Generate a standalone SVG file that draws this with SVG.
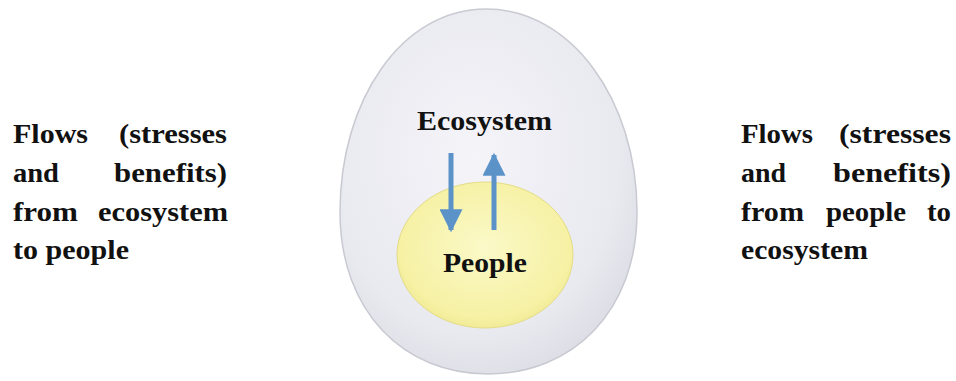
<svg xmlns="http://www.w3.org/2000/svg" width="956" height="381" viewBox="0 0 956 381">
<defs>
<radialGradient id="eggFill" cx="0.45" cy="0.4" r="0.65">
<stop offset="0" stop-color="#f4f4f9"/>
<stop offset="0.75" stop-color="#e9e9f0"/>
<stop offset="1" stop-color="#dcdce4"/>
</radialGradient>
<radialGradient id="yolkFill" cx="0.5" cy="0.45" r="0.6">
<stop offset="0" stop-color="#fbf9c8"/>
<stop offset="0.8" stop-color="#f6f1a4"/>
<stop offset="1" stop-color="#eee78e"/>
</radialGradient>
<filter id="sh" x="-10%" y="-10%" width="120%" height="130%">
<feGaussianBlur in="SourceAlpha" stdDeviation="1.2"/>
<feOffset dx="1" dy="2" result="b"/>
<feComponentTransfer><feFuncA type="linear" slope="0.35"/></feComponentTransfer>
<feMerge><feMergeNode/><feMergeNode in="SourceGraphic"/></feMerge>
</filter>
<marker id="ah" viewBox="0 0 10 10" refX="9" refY="5" markerWidth="4.6" markerHeight="4.6" orient="auto" markerUnits="strokeWidth">
<path d="M0,0 L10,5 L0,10 Z" fill="#5b93c9"/>
</marker>
</defs>
<style>
.t{font-family:"Liberation Serif","Times New Roman",serif;font-weight:bold;font-size:27px;fill:#111}
.arrow{stroke:#5b93c9;stroke-width:5;fill:none}
.rule{stroke:#111;stroke-width:3.5}
</style>
<rect width="956" height="381" fill="#ffffff"/>
<g id="egg">
<path d="M486 9 C571 9 637 100 637 212 C637 312 572 374 488 374 C404 374 340 312 340 212 C340 100 402 9 486 9 Z" fill="url(#eggFill)" stroke="#c9c9d2" stroke-width="1.5"/>
<text class="t" x="417" y="130" textLength="135" lengthAdjust="spacingAndGlyphs">Ecosystem</text>
</g>
<g id="people">
<ellipse cx="485" cy="255" rx="88" ry="73" fill="url(#yolkFill)" stroke="#e3dc86" stroke-width="1"/>
<text class="t" x="443" y="272" textLength="84" lengthAdjust="spacingAndGlyphs">People</text>
</g>
<g id="connectors">
<line class="arrow" x1="451" y1="153" x2="451" y2="230" marker-end="url(#ah)"/>
<line class="arrow" x1="494" y1="230" x2="494" y2="155" marker-end="url(#ah)"/>
<line class="rule" x1="237" y1="180" x2="334" y2="180" filter="url(#sh)"/>
<line class="rule" x1="633" y1="178" x2="720" y2="178" filter="url(#sh)"/>
</g>
<g id="left-label">
<text class="t" x="13" y="143" textLength="75" lengthAdjust="spacingAndGlyphs">Flows</text>
<text class="t" x="119" y="143" textLength="108" lengthAdjust="spacingAndGlyphs">(stresses</text>
<text class="t" x="13" y="182" textLength="46" lengthAdjust="spacingAndGlyphs">and</text>
<text class="t" x="114" y="182" textLength="113" lengthAdjust="spacingAndGlyphs">benefits)</text>
<text class="t" x="13" y="221" textLength="65" lengthAdjust="spacingAndGlyphs">from</text>
<text class="t" x="98" y="221" textLength="130" lengthAdjust="spacingAndGlyphs">ecosystem</text>
<text class="t" x="13" y="259" textLength="116" lengthAdjust="spacingAndGlyphs">to people</text>
</g>
<g id="right-label">
<text class="t" x="741" y="143" textLength="72" lengthAdjust="spacingAndGlyphs">Flows</text>
<text class="t" x="839" y="143" textLength="112" lengthAdjust="spacingAndGlyphs">(stresses</text>
<text class="t" x="741" y="182" textLength="45" lengthAdjust="spacingAndGlyphs">and</text>
<text class="t" x="833" y="182" textLength="118" lengthAdjust="spacingAndGlyphs">benefits)</text>
<text class="t" x="741" y="221" textLength="63" lengthAdjust="spacingAndGlyphs">from</text>
<text class="t" x="826" y="221" textLength="80" lengthAdjust="spacingAndGlyphs">people</text>
<text class="t" x="927" y="221" textLength="24" lengthAdjust="spacingAndGlyphs">to</text>
<text class="t" x="741" y="259" textLength="127" lengthAdjust="spacingAndGlyphs">ecosystem</text>
</g>
</svg>
